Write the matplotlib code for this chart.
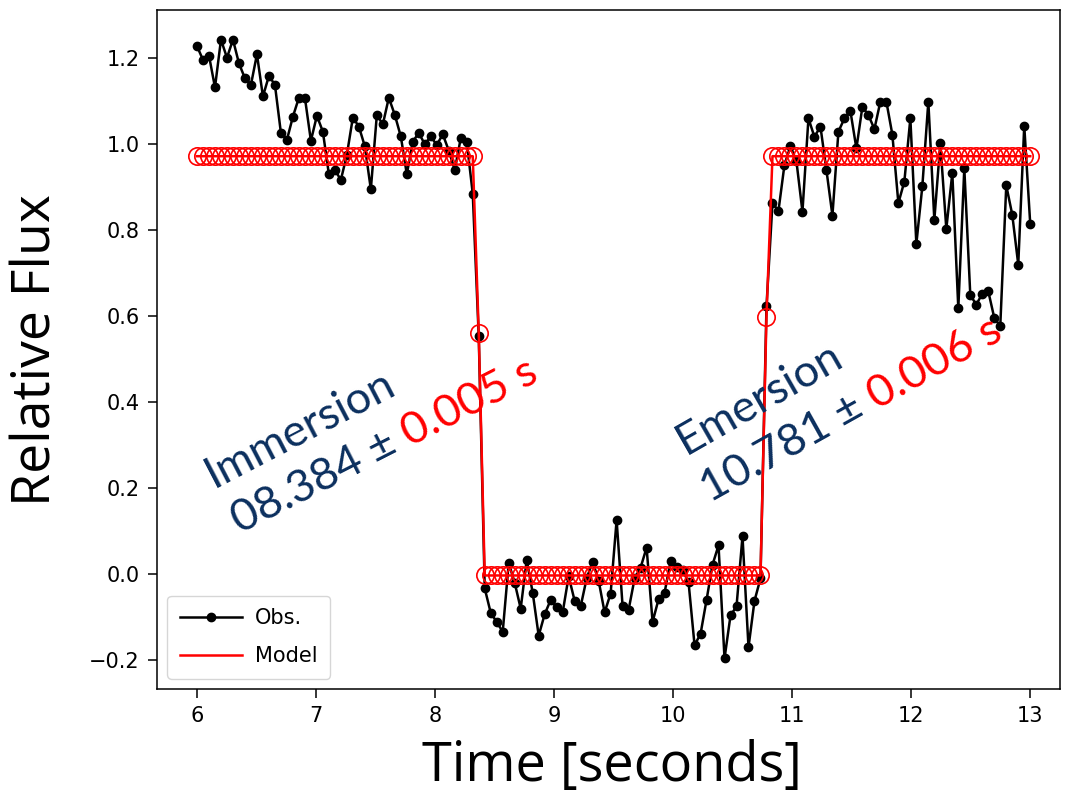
import numpy as np
import matplotlib
matplotlib.use("Agg")
import matplotlib.pyplot as plt
from matplotlib.transforms import IdentityTransform

# ---------------- data ----------------
t_first = 6.0
t_last = 13.0
obs = [
    # before immersion
    1.228, 1.196, 1.206, 1.132, 1.243, 1.201, 1.243, 1.188, 1.153, 1.138,
    1.209, 1.111, 1.159, 1.138, 1.026, 1.010, 1.064, 1.108, 1.108, 1.008,
    1.066, 1.029, 0.930, 0.940, 0.917, 0.975, 1.062, 1.041, 0.995, 0.895,
    1.068, 1.046, 1.108, 1.068, 1.018, 0.930, 1.006, 1.026, 1.000, 1.018,
    0.998, 1.023, 0.985, 0.940, 1.014, 1.005, 0.885, 0.553,
    # occultation
    -0.033, -0.090, -0.111, -0.134, 0.026, -0.020, -0.080, 0.033, -0.043, -0.143,
    -0.093, -0.060, -0.077, -0.089, -0.005, -0.062, -0.075, -0.010, 0.029, -0.015,
    -0.089, -0.045, 0.126, -0.075, -0.083, -0.010, 0.015, 0.062, -0.111, -0.058,
    -0.043, 0.030, 0.016, 0.010, -0.019, -0.165, -0.139, -0.060, 0.022, 0.067,
    -0.196, -0.096, -0.075, 0.088, -0.170, -0.062, -0.010,
    # emersion and after
    0.623, 0.863, 0.845, 0.952, 0.995, 0.960, 0.843, 1.060, 1.017, 1.041,
    0.940, 0.834, 1.029, 1.060, 1.077, 0.990, 1.087, 1.068, 1.035, 1.099,
    1.099, 1.022, 0.863, 0.913, 1.060, 0.768, 0.902, 1.099, 0.824, 1.002,
    0.803, 0.933, 0.618, 0.944, 0.649, 0.627, 0.652, 0.658, 0.596, 0.577,
    0.904, 0.836, 0.720, 1.043, 0.814,
]
model_high = 0.972
model_low = -0.003
model_ingress = 0.562
model_egress = 0.599
n_before = 47      # model samples on the upper level before immersion
n_bottom = 47      # model samples on the lower level
n_after = 44       # model samples on the upper level after emersion

model = ([model_high] * n_before + [model_ingress] + [model_low] * n_bottom
         + [model_egress] + [model_high] * n_after)

t = np.linspace(t_first, t_last, len(obs))

xticks = [6, 7, 8, 9, 10, 11, 12, 13]
yticks = [-0.2, 0.0, 0.2, 0.4, 0.6, 0.8, 1.0, 1.2]

# ---------------- figure ----------------
W, H = 1072, 793
fig = plt.figure(figsize=(W / 100, H / 100), dpi=100)
ax = fig.add_axes([157 / W, 1 - 689 / H, (1060 - 157) / W, (689 - 10) / H])

ax.plot(t, obs, color="black", lw=1.8, marker="o", ms=6, label="Obs.", zorder=2)
ax.plot(t, model, color="red", lw=1.8, label="Model", zorder=3)
ax.plot(t, model, ls="none", marker="o", ms=12.5, mfc="none", mec="red", mew=1.2, zorder=3)

ax.set_xlim(5.664, 13.25)
ax.set_ylim(-0.267, 1.312)
ax.set_xticks(xticks)
ax.set_yticks(yticks)
ax.set_yticklabels([f"{v:.1f}".replace("-", "\u2212") for v in yticks])
ax.tick_params(labelsize=15, length=6.5, width=1.1, pad=6)
for s in ax.spines.values():
    s.set_linewidth(1.1)

leg = ax.legend(loc="lower left", fontsize=15, frameon=True, borderpad=0.6,
                handlelength=3.0, handletextpad=0.6, labelspacing=0.85,
                borderaxespad=0.5)

label_font = "Open Sans"
fig.text(37 / W, 1 - 350 / H, "Relative Flux", rotation=90, ha="center", va="center",
         fontsize=38.5, family=label_font)
fig.text(612 / W, 1 - 766 / H, "Time [seconds]", ha="center", va="center",
         fontsize=39, family=label_font)

# ---------------- rotated multi-colour annotations ----------------
blue = "#0b2f5e"
red = "#ff0000"
fig.canvas.draw()
renderer = fig.canvas.get_renderer()


def text_width(s, size, family):
    tmp = fig.text(0, 0, s, fontsize=size, family=family)
    w = tmp.get_window_extent(renderer).width
    tmp.remove()
    return w


def seg_text(x_img, y_img, parts, angle, size, family="Lato"):
    x0, y0 = x_img, H - y_img
    ca, sa = np.cos(np.radians(angle)), np.sin(np.radians(angle))
    offset = 0.0
    prefix = ""
    for s, c in parts:
        fig.text(x0 + offset * ca, y0 + offset * sa, s, color=c, fontsize=size,
                 family=family, rotation=angle, rotation_mode="anchor",
                 ha="left", va="baseline", transform=IdentityTransform())
        prefix += s
        offset = text_width(prefix + "0", size, family) - text_width("0", size, family)


seg_text(214, 488, [("Immersion", blue)], 27.5, 32.5)
seg_text(240, 534, [("08.384 \u00b1 ", blue), ("0.005 s", red)], 27.0, 32.5)
seg_text(686, 455, [("Emersion", blue)], 29.8, 32.5)
seg_text(710, 503, [("10.781 \u00b1 ", blue), ("0.006 s", red)], 29.2, 32.5)

fig.savefig("out.png", dpi=100)
